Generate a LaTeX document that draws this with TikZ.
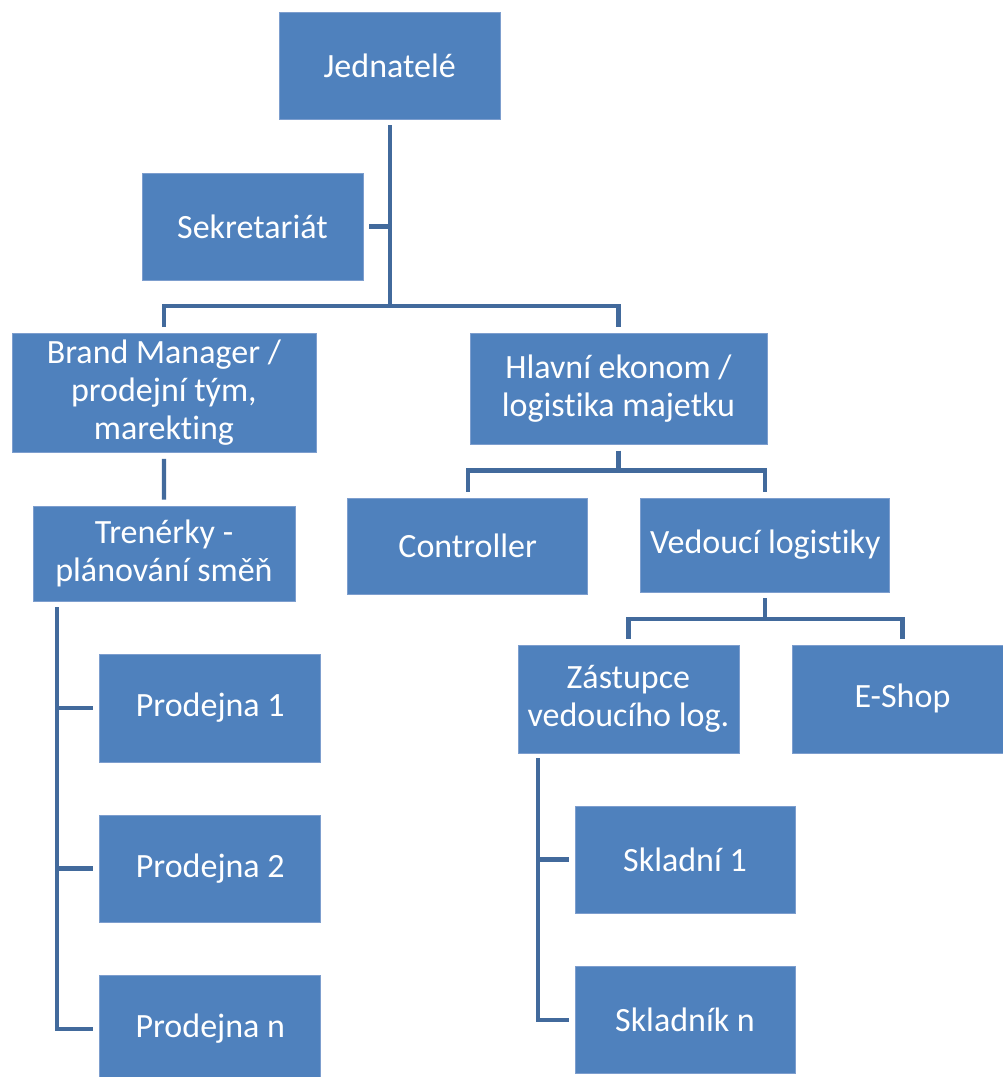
\documentclass[tikz,border=0pt]{standalone}
\usepackage{fontspec}
\setmainfont{Carlito}[Ligatures={NoCommon,NoRare}]
\usetikzlibrary{calc}
\definecolor{boxblue}{RGB}{79,129,189}
\definecolor{boxedge}{RGB}{125,158,206}
\definecolor{linkblue}{RGB}{66,106,156}
\tikzset{
  unit/.style={x=1pt,y=-1pt},
  orgbox/.style={rectangle, fill=boxblue, draw=boxedge, line width=0.8pt,
    inner sep=0pt, text=white, align=center,
    font=\fontsize{34}{38}\selectfont},
  link/.style={draw=linkblue, line width=4.3pt, line cap=butt, line join=miter}
}
\begin{document}
\begin{tikzpicture}[unit]
\useasboundingbox (0,0) rectangle (1003,1077);
\clip (0,0) rectangle (1003,1077);
\fill[white] (0,0) rectangle (1003,1077);

% boxes
\node[orgbox, minimum width=221pt, minimum height=107pt] (jed) at (389.7,66.3) {Jednatelé};
\node[orgbox, minimum width=221pt, minimum height=107pt] (sek) at (252.4,226.4) {Sekretariát};
\node[orgbox, minimum width=304pt, minimum height=119pt] (brand) at (163.9,393) {Brand Manager /\\prodejní tým,\\marekting};
\node[orgbox, minimum width=297pt, minimum height=111pt] (hlav) at (618.5,388.7) {Hlavní ekonom /\\logistika majetku};
\node[orgbox, minimum width=262pt, minimum height=95pt] (tren) at (164,553.5) {Trenérky -\\plánování směň};
\node[orgbox, minimum width=240pt, minimum height=96pt] (ctrl) at (467.7,545.9) {Controller};
\node[orgbox, minimum width=249pt, minimum height=94pt] (ved) at (765.3,544.9) {Vedoucí logistiky};
\node[orgbox, minimum width=221pt, minimum height=108pt] (zast) at (628.4,698.9) {Zástupce\\vedoucího log.};
\node[orgbox, minimum width=221pt, minimum height=108pt] (eshop) at (902.5,698.9) {E-Shop};
\node[orgbox, minimum width=221pt, minimum height=108pt] (p1) at (210.3,708) {Prodejna 1};
\node[orgbox, minimum width=221pt, minimum height=107pt] (p2) at (210.3,868.5) {Prodejna 2};
\node[orgbox, minimum width=221pt, minimum height=107pt] (pn) at (210.3,1029) {Prodejna n};
\node[orgbox, minimum width=220pt, minimum height=107pt] (s1) at (685,859.4) {Skladní 1};
\node[orgbox, minimum width=220pt, minimum height=107pt] (sn) at (685,1020) {Skladník n};

% junction points of the tree
\coordinate (b1) at (389.7,306);
\coordinate (b2) at (618.5,470.5);
\coordinate (b3) at (765.3,619);
\coordinate (t0) at (57,607);
\coordinate (z0) at (538,758);

% top level
\draw[link] ($(jed.south)+(0,5)$) -- (b1);
\draw[link] ($(sek.east)+(6,0)$) -- (sek.east -| b1);
\draw[link] ($(brand.north)+(0,-6)$) |- (b1) -| ($(hlav.north)+(0,-6)$);

% sales branch
\draw[link] ($(brand.south)+(0,6)$) -- ($(tren.north)+(0,-6)$);
\draw[link] (t0) |- ($(pn.west)+(-6,0)$);
\draw[link] (t0 |- p1.west) -- ($(p1.west)+(-6,0)$);
\draw[link] (t0 |- p2.west) -- ($(p2.west)+(-6,0)$);

% economy branch
\draw[link] ($(hlav.south)+(0,6)$) -- (b2);
\draw[link] ($(ctrl.north)+(0,-6)$) |- (b2) -| ($(ved.north)+(0,-6)$);
\draw[link] ($(ved.south)+(0,6)$) -- (b3);
\draw[link] ($(zast.north)+(0,-6)$) |- (b3) -| ($(eshop.north)+(0,-6)$);

% warehouse branch
\draw[link] (z0) |- ($(sn.west)+(-6,0)$);
\draw[link] (z0 |- s1.west) -- ($(s1.west)+(-6,0)$);
\end{tikzpicture}
\end{document}
